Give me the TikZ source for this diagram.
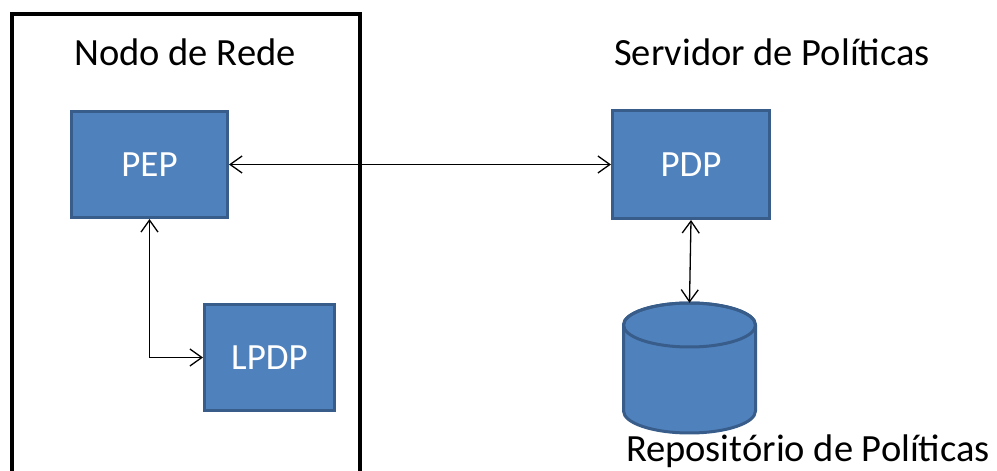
\documentclass[tikz,border=0pt]{standalone}
\usepackage{fontspec}
\setmainfont{Carlito}
\usetikzlibrary{arrows.meta}
\definecolor{boxfill}{HTML}{4F81BD}
\definecolor{boxline}{HTML}{385D8A}
\tikzset{
  block/.style={draw=boxline, fill=boxfill, line width=3pt, rectangle,
    text=white, font=\fontsize{37}{44}\selectfont, inner sep=0pt},
  title/.style={font=\fontsize{38.5}{46}\selectfont, anchor=base, inner sep=0pt},
  link/.style={line width=1.3pt, {Straight Barb[length=12pt,width=17pt]}-{Straight Barb[length=12pt,width=17pt]}},
  frame/.style={line width=4pt, black}
}
\begin{document}
\begin{tikzpicture}[x=1pt,y=1pt]
\useasboundingbox (0,0) rectangle (997,471);

% network node frame, open at the bottom
\draw[frame] (12,0) -- (12,457) -- (360,457) -- (360,0);

% labels
\node[title] (lblnode) at (185,405) {Nodo de Rede};
\node[title] (lblserver) at (772,405) {Servidor de Políticas};
\node[title] (lblrepo) at (808,9) {Repositório de Políticas};

% blocks
\node[block, minimum width=156pt, minimum height=106pt] (PEP) at (149.5,306.5) {PEP};
\node[block, minimum width=130pt, minimum height=106pt] (LPDP) at (269.5,113.5) {LPDP};
\node[block, minimum width=157pt, minimum height=108pt] (PDP) at (691,306.5) {PDP};

% policy repository (cylinder)
\node[rectangle, inner sep=0pt, minimum width=135pt, minimum height=130pt] (DB) at (689.5,103) {};
\filldraw[draw=boxline, fill=boxfill, line width=3pt]
  (623.5,146) -- (623.5,60)
  arc[start angle=180, end angle=360, x radius=66, y radius=22]
  -- (755.5,146)
  arc[start angle=0, end angle=180, x radius=66, y radius=22] -- cycle;
\draw[boxline, line width=3pt] (689.5,146) ellipse[x radius=66, y radius=22];

% connectors
\draw[link] (PEP.east) -- (PDP.west);
\draw[link] (PEP.south) |- (LPDP.west);
\draw[link] (PDP.south) -- (DB.north);
\end{tikzpicture}
\end{document}
